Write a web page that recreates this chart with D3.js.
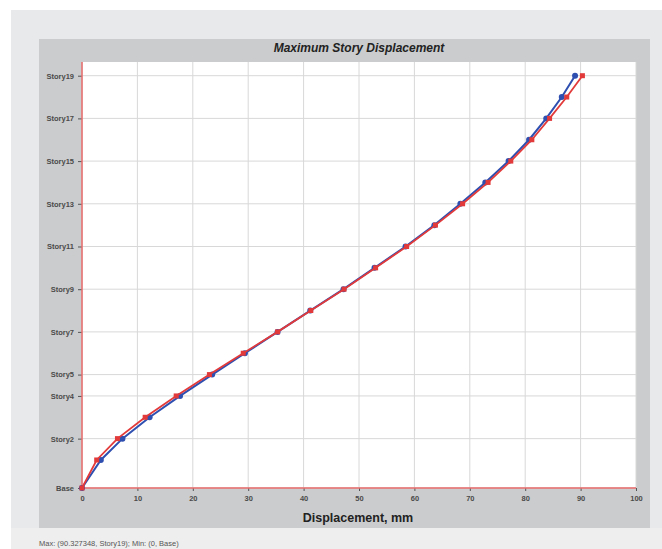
<!DOCTYPE html>
<html><head><meta charset="utf-8">
<script src="https://cdn.jsdelivr.net/npm/d3@7"></script>
<style>body{margin:0;background:#fff;}svg{display:block;}</style>
</head><body>
<script>
const stories = ["Base","Story1","Story2","Story3","Story4","Story5","Story6","Story7","Story8","Story9","Story10","Story11","Story12","Story13","Story14","Story15","Story16","Story17","Story18","Story19"];
const elevations = [0,4.2,7.4,10.6,13.8,17.0,20.2,23.4,26.6,29.8,33.0,36.2,39.4,42.6,45.8,49.0,52.2,55.4,58.6,61.8];
const blueDisp = [0,3.4,7.3,12.2,17.7,23.5,29.4,35.3,41.2,47.2,52.8,58.4,63.6,68.3,72.8,77.0,80.7,83.8,86.6,89.0];
const redDisp  = [0,2.65,6.4,11.4,17.0,23.0,29.1,35.3,41.3,47.3,53.0,58.6,63.8,68.7,73.3,77.4,81.2,84.4,87.5,90.327348];
const yTickLabels = ["Base","Story2","Story4","Story5","Story7","Story9","Story11","Story13","Story15","Story17","Story19"];
const xTicks = [0,10,20,30,40,50,60,70,80,90,100];
const title = "Maximum Story Displacement";
const xTitle = "Displacement, mm";
const footer = "Max: (90.327348, Story19);   Min: (0, Base)";

const W=662,H=549;
const svg=d3.select("body").append("svg").attr("width",W).attr("height",H);
svg.append("rect").attr("width",W).attr("height",H).attr("fill","#ffffff");
svg.append("rect").attr("x",11).attr("y",10).attr("width",W-11).attr("height",H-10).attr("fill","#e8e9ea");
svg.append("rect").attr("x",39).attr("y",39).attr("width",611).attr("height",489).attr("fill","#cbcccd");
svg.append("rect").attr("x",11).attr("y",528).attr("width",W-11).attr("height",21).attr("fill","#eeeeee");

const L=82,R=636,T=62,B=488;
const x=d3.scaleLinear().domain([0,100]).range([L,R]);
const y=d3.scaleLinear().domain([0,61.8]).range([B,75.7]);
const elevOf = name => elevations[stories.indexOf(name)];

svg.append("rect").attr("x",L).attr("y",T).attr("width",R-L).attr("height",B-T).attr("fill","#ffffff");

// grid
const g=svg.append("g");
g.selectAll(".vg").data(xTicks).join("line")
  .attr("x1",d=>x(d)).attr("x2",d=>x(d)).attr("y1",T).attr("y2",B)
  .attr("stroke","#d8d8d8").attr("stroke-width",1);
g.selectAll(".hg").data(yTickLabels).join("line")
  .attr("x1",L).attr("x2",R).attr("y1",d=>y(elevOf(d))).attr("y2",d=>y(elevOf(d)))
  .attr("stroke","#d8d8d8").attr("stroke-width",1);

// axes
const yAxis=d3.axisLeft(y).tickValues(yTickLabels.map(elevOf))
  .tickFormat(v=>stories[elevations.indexOf(v)]).tickSize(4).tickPadding(4);
const ya=svg.append("g").attr("transform",`translate(${L},0)`).call(yAxis);
ya.select(".domain").remove();
ya.selectAll("line").attr("stroke","#555");
ya.selectAll("text").attr("font-family","Liberation Sans, Arial, sans-serif").attr("font-weight","bold")
  .attr("font-size","7.5px").attr("fill","#4a4a4a");

const xAxis=d3.axisBottom(x).tickValues(xTicks).tickSize(3).tickPadding(5);
const xa=svg.append("g").attr("transform",`translate(0,${B})`).call(xAxis);
xa.select(".domain").remove();
xa.selectAll("line").attr("stroke","#555");
xa.selectAll("text").attr("font-family","Liberation Sans, Arial, sans-serif").attr("font-weight","bold")
  .attr("font-size","7.5px").attr("fill","#4a4a4a");

// red frame lines
svg.append("line").attr("x1",L).attr("x2",L).attr("y1",T).attr("y2",B).attr("stroke","#e86a6a").attr("stroke-width",1.5);
svg.append("line").attr("x1",L).attr("x2",R).attr("y1",B).attr("y2",B).attr("stroke","#e86a6a").attr("stroke-width",1.5);

// series
const line=d3.line().x(d=>x(d[0])).y(d=>y(d[1]));
const blue=blueDisp.map((v,i)=>[v,elevations[i]]);
const red=redDisp.map((v,i)=>[v,elevations[i]]);
svg.append("path").attr("d",line(blue)).attr("fill","none").attr("stroke","#2f4fb0").attr("stroke-width",2);
svg.selectAll(".bc").data(blue).join("circle").attr("cx",d=>x(d[0])).attr("cy",d=>y(d[1])).attr("r",3).attr("fill","#2f4fb0");
svg.append("path").attr("d",line(red)).attr("fill","none").attr("stroke","#e23a3a").attr("stroke-width",1.8);
svg.selectAll(".rs").data(red).join("rect").attr("x",d=>x(d[0])-2.5).attr("y",d=>y(d[1])-2.5)
  .attr("width",5).attr("height",5).attr("fill","#e23a3a");

// titles
svg.append("text").attr("x",359).attr("y",52).attr("text-anchor","middle")
  .attr("font-family","Liberation Sans, Arial, sans-serif").attr("font-weight","bold").attr("font-style","italic")
  .attr("font-size","12px").attr("fill","#222").text(title);
svg.append("text").attr("x",358).attr("y",522).attr("text-anchor","middle")
  .attr("font-family","Liberation Sans, Arial, sans-serif").attr("font-weight","bold")
  .attr("font-size","12.5px").attr("fill","#222").text(xTitle);
svg.append("text").attr("x",39).attr("y",546)
  .attr("font-family","Liberation Sans, Arial, sans-serif")
  .attr("font-size","7.5px").attr("fill","#555").text(footer);
</script>
</body></html>
